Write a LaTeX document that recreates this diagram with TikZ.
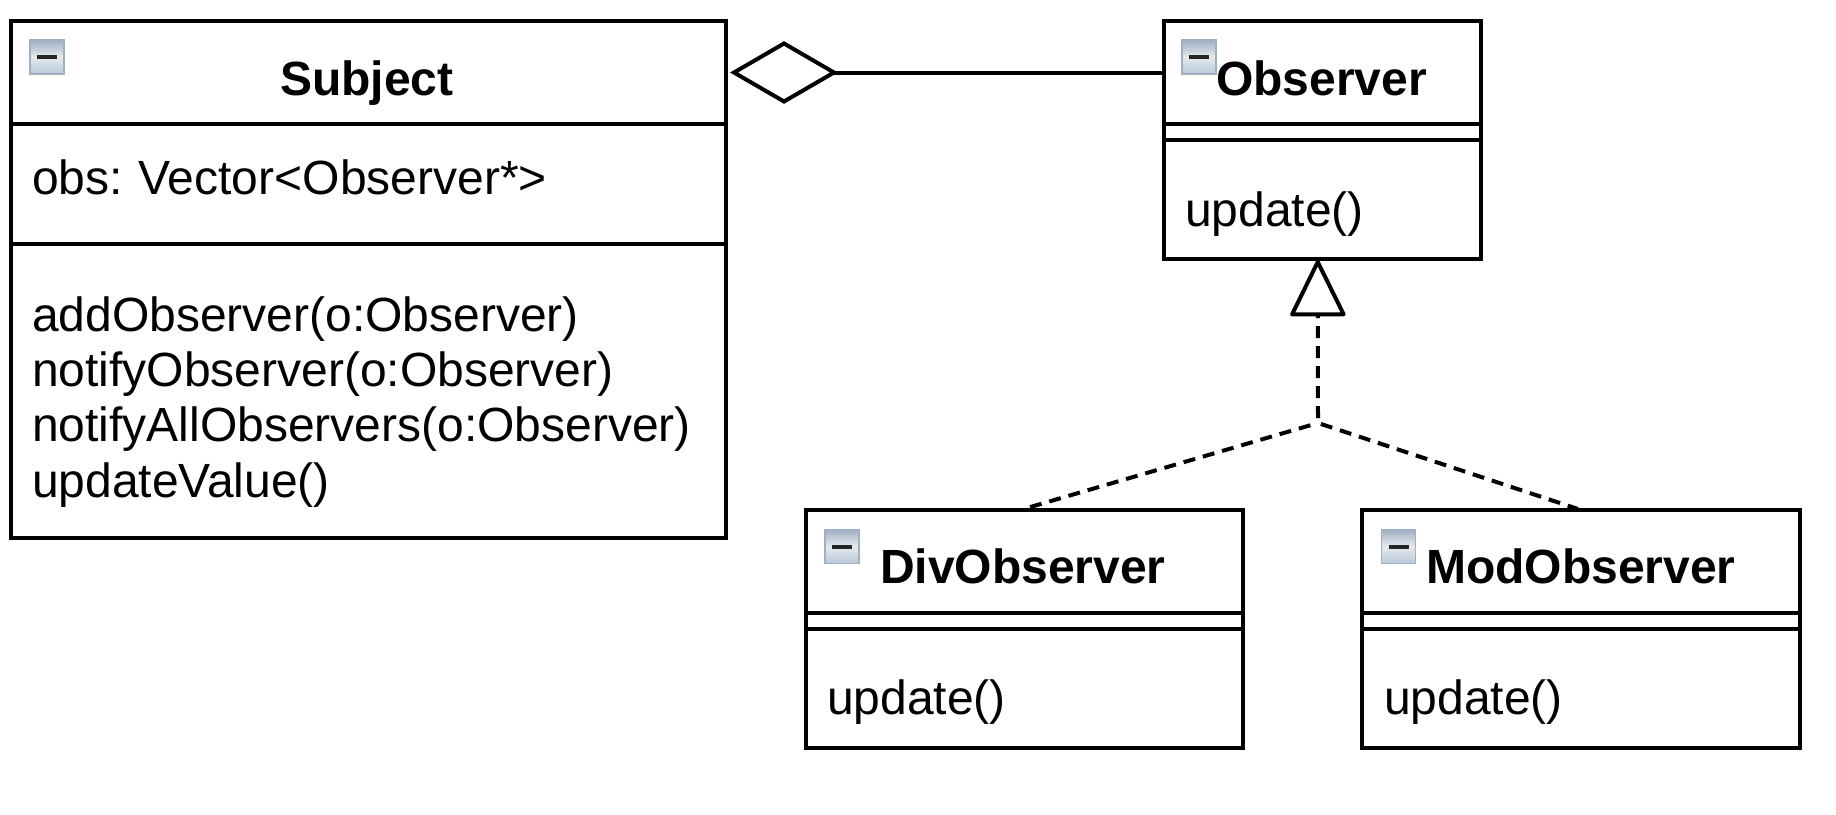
\documentclass[tikz,border=0pt]{standalone}
\usepackage{fontspec}
\setmainfont{Liberation Sans}
\frenchspacing
\usetikzlibrary{arrows.meta,shapes.geometric,calc}
\definecolor{inkc}{HTML}{000000}
\tikzset{
  umlline/.style={line width=4pt,draw=inkc},
  part/.style={umlline,rectangle,inner sep=0pt,outer sep=0pt,fill=white},
  txt/.style={anchor=base west,inner sep=0pt,outer sep=0pt,font=\fontsize{48pt}{55pt}\selectfont,text=inkc},
  ttl/.style={txt,font=\fontsize{48pt}{55pt}\selectfont\bfseries},
  icon/.style={rectangle,inner sep=0pt,outer sep=0pt,minimum width=34pt,minimum height=34pt,
    draw=iconedge,line width=1.6pt,top color=icontop,bottom color=iconbot,middle color=iconmid,
    path picture={\draw[line width=4pt,color=black!85] ([xshift=-10pt]path picture bounding box.center) -- ([xshift=10pt]path picture bounding box.center);}},
  dashline/.style={umlline,line cap=butt,dash pattern=on 12pt off 8pt},
  aggr/.style={umlline,diamond,inner sep=0pt,outer sep=0pt,minimum width=100pt,minimum height=58pt,fill=white},
}
\definecolor{iconedge}{HTML}{A0B0C2}
\definecolor{icontop}{HTML}{9FB0C3}
\definecolor{iconmid}{HTML}{E6EAEE}
\definecolor{iconbot}{HTML}{B8C8D8}
% name, x0, y0, x1, y1
\newcommand{\umlpart}[5]{%
  \node[part,minimum width={(#4-#2)*1pt},minimum height={(#5-#3)*1pt}] (#1) at ({(#2+#4)/2},{(#3+#5)/2}) {};}
\begin{document}
\begin{tikzpicture}[x=1pt,y=-1pt]
\useasboundingbox (0,0) rectangle (1836,814);
% Subject
\umlpart{subjT}{11}{21}{726}{123.5}
\umlpart{subjA}{11}{123.5}{726}{244}
\umlpart{subjO}{11}{244}{726}{538}
\node[icon] (subjI) at (47,57) {};
\node[ttl] (subjN) at (280,95) {Subject};
\node[txt] (subjAt) at (32,194) {obs: \hspace{2.5pt}Vector<Observer*>};
\node[txt] (subjM1) at (32,331) {addObserver(o:Observer)};
\node[txt] (subjM2) at (32,386) {notifyObserver(o:Observer)};
\node[txt] (subjM3) at (32,441) {notifyAllObservers(o:Observer)};
\node[txt] (subjM4) at (32,497) {updateValue()};
% Observer
\umlpart{obsT}{1163.5}{21}{1481}{123.5}
\umlpart{obsA}{1163.5}{123.5}{1481}{139.5}
\umlpart{obsO}{1163.5}{139.5}{1481}{259}
\node[icon] (obsI) at (1199,57) {};
\node[ttl] (obsN) at (1216,95) {Observer};
\node[txt] (obsM) at (1185,226) {update()};
% DivObserver
\umlpart{divT}{806}{510}{1243}{613}
\umlpart{divA}{806}{613}{1243}{629}
\umlpart{divO}{806}{629}{1243}{747.5}
\node[icon] (divI) at (842,546.5) {};
\node[ttl] (divN) at (880,583) {DivObserver};
\node[txt] (divM) at (827,714) {update()};
% ModObserver
\umlpart{modT}{1362}{510}{1800}{613}
\umlpart{modA}{1362}{613}{1800}{629}
\umlpart{modO}{1362}{629}{1800}{747.5}
\node[icon] (modI) at (1398.5,546.5) {};
\node[ttl] (modN) at (1426,583) {ModObserver};
\node[txt] (modM) at (1384,714) {update()};
% Aggregation
\node[aggr] (agg) at (784,72.5) {};
\draw[umlline] (agg.east) -- (agg.east -| obsT.west);
% Realisation
\coordinate (junc) at (1318,423);
\coordinate (obsFoot) at ($(obsO.south)+(-4.5,1)$);
\draw[dashline,dash phase=15pt,-{Triangle[open,fill=white,length=59pt,width=57pt,line width=4pt,round=false]}] (junc) -- (obsFoot);
\draw[dashline,dash phase=12pt] (junc) -- ($(divT.north)+(-1,-1)$);
\draw[dashline,dash phase=17pt] (junc) -- ($(modT.north)+(-3,-1)$);
\end{tikzpicture}
\end{document}
